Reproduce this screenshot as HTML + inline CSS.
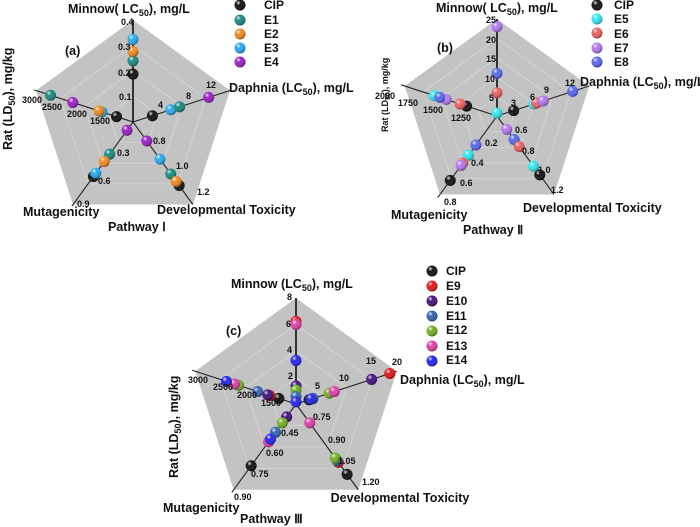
<!DOCTYPE html>
<html><head><meta charset="utf-8">
<style>
html,body{margin:0;padding:0;background:#fff;}
svg{display:block;font-family:"Liberation Sans",Arial,sans-serif;font-weight:bold;}
.t{font-size:12.5px;fill:#111;}
.k{font-size:9px;fill:#111;}
.l{font-size:12px;fill:#111;}
</style></head>
<body>
<svg id="s" width="700" height="527" viewBox="0 0 700 527" xmlns="http://www.w3.org/2000/svg">
<defs>
<radialGradient id="hl" cx="35%" cy="30%" r="70%">
<stop offset="0" stop-color="#fff" stop-opacity="0.85"/>
<stop offset="0.35" stop-color="#fff" stop-opacity="0"/>
<stop offset="1" stop-color="#000" stop-opacity="0.35"/>
</radialGradient>
</defs>
<g id="shapes"></g>

<!-- Panel a text -->
<text class="t" x="68" y="13">Minnow(  LC<tspan font-size="9" dy="3">50</tspan><tspan dy="-3">), mg/L</tspan></text>
<text class="t" x="65" y="55" font-size="11">(a)</text>
<text class="t" x="229" y="92">Daphnia (LC<tspan font-size="9" dy="3">50</tspan><tspan dy="-3">), mg/L</tspan></text>
<text class="t" transform="translate(12,150) rotate(-90)">Rat (LD<tspan font-size="9" dy="3">50</tspan><tspan dy="-3">), mg/kg</tspan></text>
<text class="t" x="23" y="216">Mutagenicity</text>
<text class="t" x="157" y="214">Developmental Toxicity</text>
<text class="t" x="108" y="231">Pathway Ⅰ</text>
<text class="k" x="121" y="25">0.4</text>
<text class="k" x="118" y="50">0.3</text>
<text class="k" x="118" y="76">0.2</text>
<text class="k" x="119" y="100">0.1</text>
<text class="k" x="158" y="108">4</text>
<text class="k" x="186" y="99">8</text>
<text class="k" x="206" y="88">12</text>
<text class="k" x="22" y="103">3000</text>
<text class="k" x="42" y="110">2500</text>
<text class="k" x="67" y="117">2000</text>
<text class="k" x="90" y="124">1500</text>
<text class="k" x="117" y="156">0.3</text>
<text class="k" x="98" y="184">0.6</text>
<text class="k" x="77" y="207">0.9</text>
<text class="k" x="153" y="144">0.8</text>
<text class="k" x="176" y="169">1.0</text>
<text class="k" x="197" y="195">1.2</text>
<text class="l" x="264" y="9">CIP</text>
<text class="l" x="264" y="24">E1</text>
<text class="l" x="264" y="38">E2</text>
<text class="l" x="264" y="52">E3</text>
<text class="l" x="264" y="66">E4</text>

<!-- Panel b text -->
<text class="t" x="436" y="12">Minnow(  LC<tspan font-size="9" dy="3">50</tspan><tspan dy="-3">), mg/L</tspan></text>
<text class="t" x="437" y="52" font-size="11">(b)</text>
<text class="t" x="580" y="86">Daphnia (LC<tspan font-size="9" dy="3">50</tspan><tspan dy="-3">), mg/L</tspan></text>
<text class="k" transform="translate(388,132) rotate(-90)">Rat (LD<tspan font-size="7" dy="2">50</tspan><tspan dy="-2">), mg/kg</tspan></text>
<text class="t" x="391" y="219">Mutagenicity</text>
<text class="t" x="523" y="212">Developmental Toxicity</text>
<text class="t" x="463" y="234">Pathway Ⅱ</text>
<text class="k" x="486" y="23">25</text>
<text class="k" x="486" y="43">20</text>
<text class="k" x="486" y="62">15</text>
<text class="k" x="485" y="82">10</text>
<text class="k" x="489" y="101">5</text>
<text class="k" x="511" y="106">3</text>
<text class="k" x="530" y="100">6</text>
<text class="k" x="544" y="93">9</text>
<text class="k" x="565" y="86">12</text>
<text class="k" x="375" y="99">2000</text>
<text class="k" x="398" y="106">1750</text>
<text class="k" x="423" y="113">1500</text>
<text class="k" x="451" y="121">1250</text>
<text class="k" x="485" y="146">0.2</text>
<text class="k" x="471" y="166">0.4</text>
<text class="k" x="460" y="186">0.6</text>
<text class="k" x="444" y="205">0.8</text>
<text class="k" x="515" y="133">0.6</text>
<text class="k" x="522" y="154">0.8</text>
<text class="k" x="538" y="173">1.0</text>
<text class="k" x="551" y="193">1.2</text>
<text class="l" x="614" y="9">CIP</text>
<text class="l" x="614" y="23">E5</text>
<text class="l" x="614" y="38">E6</text>
<text class="l" x="614" y="52">E7</text>
<text class="l" x="614" y="66">E8</text>

<!-- Panel c text -->
<text class="t" x="231" y="288">Minnow (LC<tspan font-size="9" dy="3">50</tspan><tspan dy="-3">), mg/L</tspan></text>
<text class="t" x="226" y="335" font-size="11">(c)</text>
<text class="t" x="400" y="384">Daphnia (LC<tspan font-size="9" dy="3">50</tspan><tspan dy="-3">), mg/L</tspan></text>
<text class="t" transform="translate(178,478) rotate(-90)">Rat (LD<tspan font-size="9" dy="3">50</tspan><tspan dy="-3">), mg/kg</tspan></text>
<text class="t" x="163" y="512">Mutagenicity</text>
<text class="t" x="400" y="502" text-anchor="middle">Developmental Toxicity</text>
<text class="t" x="240" y="523">Pathway Ⅲ</text>
<text class="k" x="287" y="300">8</text>
<text class="k" x="286" y="327">6</text>
<text class="k" x="287" y="353">4</text>
<text class="k" x="288" y="379">2</text>
<text class="k" x="315" y="389">5</text>
<text class="k" x="339" y="381">10</text>
<text class="k" x="366" y="364">15</text>
<text class="k" x="392" y="365">20</text>
<text class="k" x="188" y="383">3000</text>
<text class="k" x="213" y="390">2500</text>
<text class="k" x="237" y="398">2000</text>
<text class="k" x="261" y="406">1500</text>
<text class="k" x="281" y="436">0.45</text>
<text class="k" x="266" y="456">0.60</text>
<text class="k" x="251" y="477">0.75</text>
<text class="k" x="234" y="500">0.90</text>
<text class="k" x="313" y="420">0.75</text>
<text class="k" x="328" y="443">0.90</text>
<text class="k" x="338" y="464">1.05</text>
<text class="k" x="362" y="485">1.20</text>
<text class="l" x="446" y="275">CIP</text>
<text class="l" x="446" y="290">E9</text>
<text class="l" x="446" y="305">E10</text>
<text class="l" x="446" y="320">E11</text>
<text class="l" x="446" y="334">E12</text>
<text class="l" x="446" y="350">E13</text>
<text class="l" x="446" y="364">E14</text>
</svg>
<script>
(function(){
var g=document.getElementById('shapes'),NS='http://www.w3.org/2000/svg';
function el(n,a){var e=document.createElementNS(NS,n);for(var k in a)e.setAttribute(k,a[k]);g.appendChild(e);return e;}
var ang=[-90,-18,54,126,198].map(function(d){return d*Math.PI/180;});
function pt(c,r,i,f){return [c[0]+Math.cos(ang[i])*r*f,c[1]+Math.sin(ang[i])*r*f];}
function ball(x,y,col,r){r=r||5.5;el('circle',{cx:x,cy:y,r:r,fill:col});el('circle',{cx:x,cy:y,r:r,fill:'url(#hl)'});}
function panel(c,r,grid,axEnd,data,legend){
 var p=[];for(var i=0;i<5;i++)p.push(pt(c,r,i,1).join(','));
 el('polygon',{points:p.join(' '),fill:'#c3c3c3'});
 grid.forEach(function(f){var q=[];for(var i=0;i<5;i++)q.push(pt(c,r,i,f).join(','));
  el('polygon',{points:q.join(' '),fill:'none',stroke:'#d6d6d6','stroke-width':0.8});
  });
 for(var i=0;i<5;i++){var e=pt(c,r,i,axEnd[i]);el('line',{x1:c[0],y1:c[1],x2:e[0],y2:e[1],stroke:'#222','stroke-width':i==0?1.8:1.1});}
 data.forEach(function(d){var q=pt(c,r,d[0],d[1]);ball(q[0],q[1],d[2]);});
 legend.forEach(function(l){ball(l[0],l[1],l[2],5.5);});
}
var K='#111',T='#1a8a80',O='#f08a20',B='#28aaf0',P='#9a20c8';
panel([133,122],102,[0.25,0.5,0.75],[1,1,1,1.02,1.02],[
[0,0.47,K],[0,0.6,T],[0,0.69,O],[0,0.81,B],
[1,0.2,K],[1,0.39,B],[1,0.48,T],[1,0.78,P],
[4,0.17,K],[4,0.32,B],[4,0.35,O],[4,0.62,P],[4,0.85,T],
[3,0.1,P],[3,0.39,T],[3,0.48,O],[3,0.66,K],[3,0.62,B],
[2,0.23,P],[2,0.45,B],[2,0.63,T],[2,0.77,K],[2,0.72,O]
],[[240,5,K],[240,20,T],[240,34,O],[240,48,B],[240,62,P]]);
var C='#30e8f0',R='#f06060',V='#b478f0',Bl='#5868f0';
panel([497,116],97,[0.2,0.4,0.6,0.8],[1,1,1,1.04,1.04],[
[0,0.24,R],[0,0.44,Bl],[0,0.92,V],
[1,0.18,K],[1,0.4,C],[1,0.43,R],[1,0.5,V],[1,0.82,Bl],
[4,0.33,K],[4,0.4,R],[4,0.55,V],[4,0.68,C],[4,0.62,Bl],
[3,0.37,Bl],[3,0.5,C],[3,0.6,R],[3,0.63,V],[3,0.82,K],
[2,0.17,V],[2,0.3,Bl],[2,0.39,R],[2,0.64,C],[2,0.75,K],
[0,0.03,C]
],[[597,5,K],[597,19,C],[597,33,R],[597,48,V],[597,62,Bl]]);
var r9='#e01818',p10='#42127e',b11='#3565b0',g12='#74b025',m13='#e040a8',b14='#2525f0';
panel([296,404],106,[0.25,0.5,0.75],[1,1,1,1.03,1.03],[
[0,0.78,r9],[0,0.75,m13],[0,0.41,b14],[0,0.17,p10],[0,0.13,g12],[0,0.07,b11],
[1,0.13,K],[1,0.17,b11],[1,0.15,b14],[1,0.33,g12],[1,0.38,m13],[1,0.75,p10],[1,0.93,r9],
[4,0.17,K],[4,0.26,r9],[4,0.28,p10],[4,0.38,b11],[4,0.57,g12],[4,0.61,m13],[4,0.69,b14],
[3,0.15,p10],[3,0.22,g12],[3,0.33,b11],[3,0.44,r9],[3,0.44,m13],[3,0.41,b14],[3,0.72,K],
[2,0.22,m13],[2,0.68,r9],[2,0.66,b11],[2,0.63,g12],[2,0.82,K],
[0,0.02,b14]
],[[432,271,K],[432,286,r9],[432,301,p10],[432,316,b11],[432,331,g12],[432,346,m13],[432,361,b14]]);
})();
</script>
</body></html>
